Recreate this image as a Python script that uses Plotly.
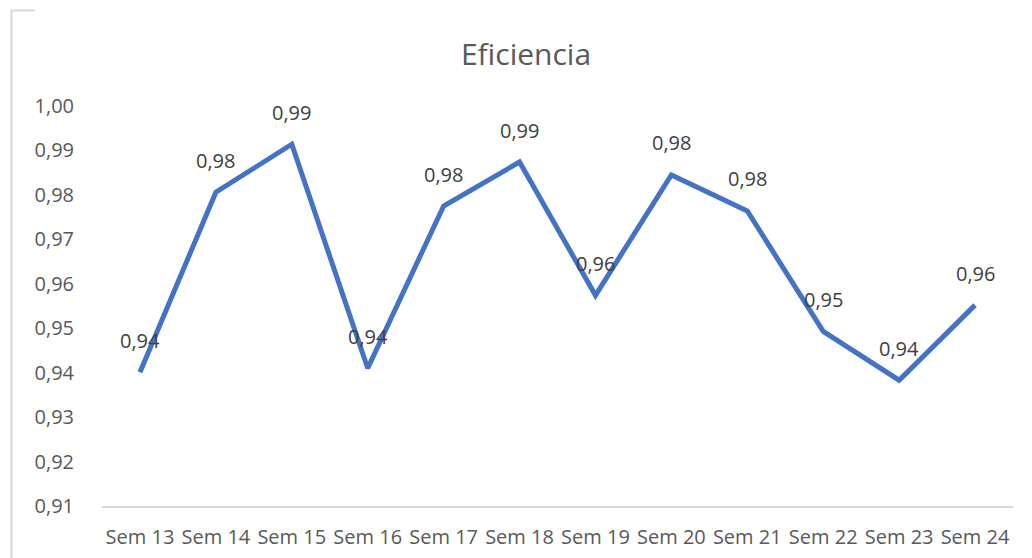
import plotly.graph_objects as go

categories = ["Sem 13", "Sem 14", "Sem 15", "Sem 16", "Sem 17", "Sem 18",
              "Sem 19", "Sem 20", "Sem 21", "Sem 22", "Sem 23", "Sem 24"]
eficiencia = [0.9401, 0.9806, 0.9914, 0.9410, 0.9775, 0.9874,
              0.9574, 0.9845, 0.9764, 0.9493, 0.9383, 0.9552]
y_ticks = [0.91, 0.92, 0.93, 0.94, 0.95, 0.96, 0.97, 0.98, 0.99, 1.00]
y_tick_labels = [f"{v:.2f}".replace(".", ",") for v in y_ticks]
point_labels = [f"{v:.2f}".replace(".", ",") for v in eficiencia]

W, H = 1032, 558
FONT = "Open Sans"

fig = go.Figure()
fig.add_trace(go.Scatter(
    x=categories, y=eficiencia, mode="lines",
    line=dict(color="#4472C4", width=5), hoverinfo="x+y", showlegend=False,
))

for c, v, t in zip(categories, eficiencia, point_labels):
    fig.add_annotation(x=c, y=v, text=t, showarrow=False, yshift=32,
                       font=dict(family=FONT, size=20, color="#404040"))

fig.update_layout(
    width=W, height=H,
    paper_bgcolor="white", plot_bgcolor="white",
    margin=dict(l=102, r=19, t=106, b=52),
    title=dict(text="Eficiencia", x=526 / W, xanchor="center", xref="container",
               y=1 - 54 / H, yanchor="middle", yref="container",
               font=dict(family=FONT, size=30, color="#595959")),
    xaxis=dict(type="category", showgrid=False, showline=True, linecolor="#d9d9d9",
               linewidth=2, ticks="", tickfont=dict(family=FONT, size=20, color="#595959"),
               ticklabelstandoff=12,
               range=[-0.5, len(categories) - 0.5], fixedrange=True, automargin=False),
    yaxis=dict(range=[0.91, 1.0], tickvals=y_ticks, ticktext=y_tick_labels,
               showgrid=False, showline=False, zeroline=False, ticks="",
               ticklabelstandoff=27,
               tickfont=dict(family=FONT, size=20, color="#595959"), fixedrange=True,
               automargin=False),
)

# chart frame border (left and top), as in the cropped source
px_w, px_h = W - 121, H - 158
fig.add_shape(type="line", xref="paper", yref="paper",
              x0=-(102 - 11.5) / px_w, x1=-(102 - 11.5) / px_w,
              y0=1 + (106 - 10) / px_h, y1=-(52) / px_h,
              line=dict(color="#d9d9d9", width=2))
fig.add_shape(type="line", xref="paper", yref="paper",
              x0=-(102 - 11.5) / px_w, x1=-(102 - 35) / px_w,
              y0=1 + (106 - 10.5) / px_h, y1=1 + (106 - 10.5) / px_h,
              line=dict(color="#d9d9d9", width=2))

fig.write_html("out.html")
